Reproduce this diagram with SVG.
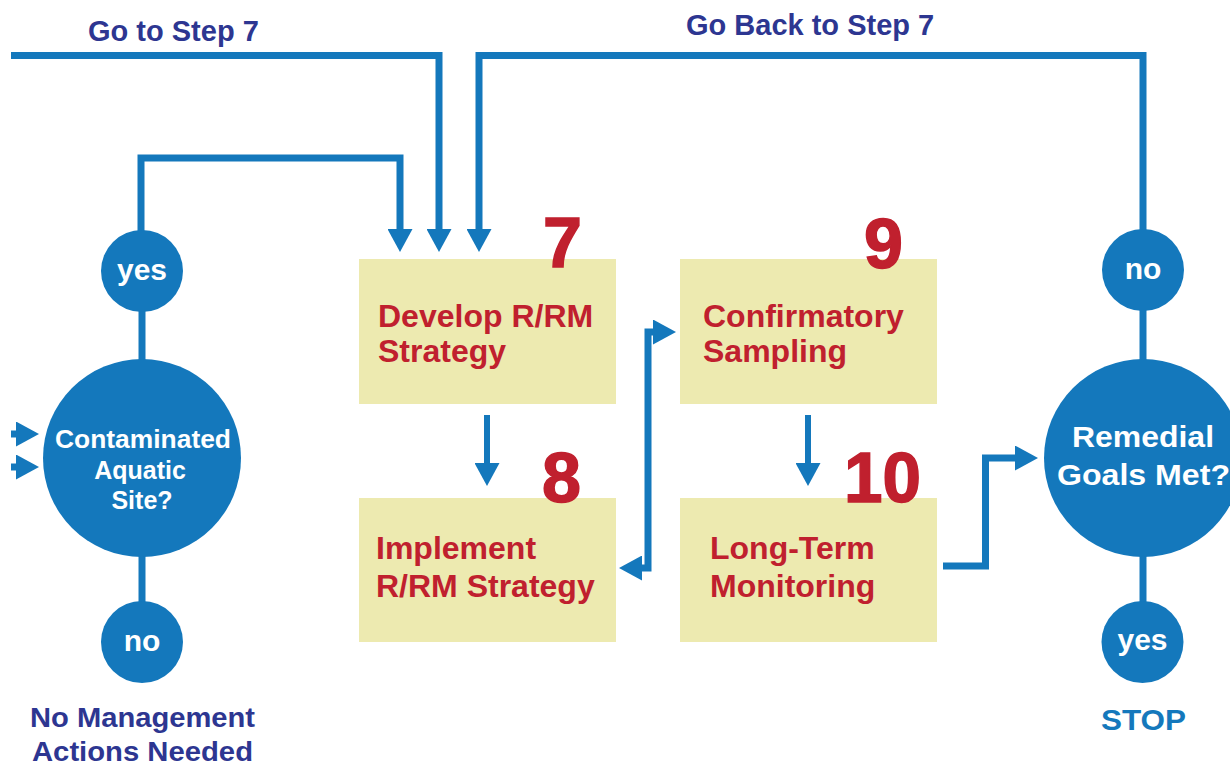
<svg xmlns="http://www.w3.org/2000/svg" width="1230" height="765" viewBox="0 0 1230 765">
<style>
.bg{fill:#ffffff}
.box{fill:#EDEAB0}
.circ{fill:#1478BC}
.con{fill:none;stroke:#1478BC;stroke-width:7;stroke-linejoin:miter}
.thin{stroke-width:6}
.nav{font-family:"Liberation Sans",Arial,sans-serif;font-weight:bold;fill:#2D3691}
.red{font-family:"Liberation Sans",Arial,sans-serif;font-weight:bold;fill:#C0202E;font-size:32px}
.num{font-family:"Liberation Sans",Arial,sans-serif;font-weight:bold;fill:#C0202E;stroke:#C0202E;stroke-width:1.5;font-size:70px;text-anchor:end}
.wht{font-family:"Liberation Sans",Arial,sans-serif;font-weight:bold;fill:#ffffff;text-anchor:middle}
.stop{font-family:"Liberation Sans",Arial,sans-serif;font-weight:bold;fill:#1478BC;text-anchor:middle;font-size:30px}
</style>
<defs>
<marker id="ah" markerUnits="userSpaceOnUse" markerWidth="23" markerHeight="25" viewBox="0 0 23 25" refX="1" refY="12.5" orient="auto-start-reverse">
<path d="M0,0 L23,12.5 L0,25 Z" fill="#1478BC"/>
</marker>
</defs>
<rect class="bg" x="0" y="0" width="1230" height="765"/>
<g id="labels">
<text class="nav" x="88" y="41" font-size="29">Go to Step 7</text>
<text class="nav" x="686" y="35" font-size="29">Go Back to Step 7</text>
</g>
<g id="connectors">
<path class="con" d="M11,55.5 H439 V230" marker-end="url(#ah)"/>
<path class="con" d="M141,232 V158 H400 V230" marker-end="url(#ah)"/>
<path class="con" d="M1143,232 V55.5 H479 V230" marker-end="url(#ah)"/>
<path class="con thin" d="M487,415 V464" marker-end="url(#ah)"/>
<path class="con thin" d="M808,415 V464" marker-end="url(#ah)"/>
<path class="con" d="M641,568 H648 V332 H654" marker-start="url(#ah)" marker-end="url(#ah)"/>
<path class="con" d="M943,566 H985.5 V458 H1016" marker-end="url(#ah)"/>
<path class="con" d="M11,434 H17" marker-end="url(#ah)"/>
<path class="con" d="M11,467 H17" marker-end="url(#ah)"/>
<path class="con" d="M142,309 V361"/>
<path class="con" d="M142,555 V603"/>
<path class="con" d="M1143,309 V361"/>
<path class="con" d="M1143,555 V603"/>
</g>
<g id="yes-left">
<circle class="circ" cx="142" cy="271" r="41"/>
<text class="wht" x="142" y="280" font-size="30">yes</text>
</g>
<g id="contaminated">
<circle class="circ" cx="142" cy="458" r="99"/>
<text class="wht" x="143" y="448" font-size="25" textLength="176" lengthAdjust="spacingAndGlyphs">Contaminated</text>
<text class="wht" x="140" y="479" font-size="25">Aquatic</text>
<text class="wht" x="142" y="509" font-size="25">Site?</text>
</g>
<g id="no-left">
<circle class="circ" cx="142" cy="642" r="41"/>
<text class="wht" x="142" y="651" font-size="30">no</text>
</g>
<g id="no-management">
<text class="nav" x="142.5" y="727" font-size="27" text-anchor="middle" textLength="225" lengthAdjust="spacingAndGlyphs">No Management</text>
<text class="nav" x="142.5" y="761" font-size="27" text-anchor="middle" textLength="221" lengthAdjust="spacingAndGlyphs">Actions Needed</text>
</g>
<g id="step7">
<rect class="box" x="359" y="259" width="257" height="145"/>
<text class="num" x="582" y="267">7</text>
<text class="red" x="378" y="327">Develop R/RM</text>
<text class="red" x="378" y="362">Strategy</text>
</g>
<g id="step8">
<rect class="box" x="359" y="498" width="257" height="144"/>
<text class="num" x="581" y="502">8</text>
<text class="red" x="376" y="559">Implement</text>
<text class="red" x="376" y="597">R/RM Strategy</text>
</g>
<g id="step9">
<rect class="box" x="680" y="259" width="257" height="145"/>
<text class="num" x="903" y="268">9</text>
<text class="red" x="703" y="327">Confirmatory</text>
<text class="red" x="703" y="362">Sampling</text>
</g>
<g id="step10">
<rect class="box" x="680" y="498" width="257" height="144"/>
<text class="num" x="921" y="502" textLength="77" lengthAdjust="spacingAndGlyphs">10</text>
<text class="red" x="710" y="559">Long-Term</text>
<text class="red" x="710" y="597">Monitoring</text>
</g>
<g id="no-right">
<circle class="circ" cx="1143" cy="270" r="41"/>
<text class="wht" x="1143" y="279" font-size="30">no</text>
</g>
<g id="remedial">
<circle class="circ" cx="1143" cy="458" r="99"/>
<text class="wht" x="1143" y="447" font-size="30" textLength="142" lengthAdjust="spacingAndGlyphs">Remedial</text>
<text class="wht" x="1143.5" y="485" font-size="30" textLength="173" lengthAdjust="spacingAndGlyphs">Goals Met?</text>
</g>
<g id="yes-right">
<circle class="circ" cx="1142.5" cy="642" r="41"/>
<text class="wht" x="1142.5" y="650" font-size="30">yes</text>
</g>
<g id="stop">
<text class="stop" x="1143.5" y="730" textLength="85" lengthAdjust="spacingAndGlyphs">STOP</text>
</g>
</svg>
